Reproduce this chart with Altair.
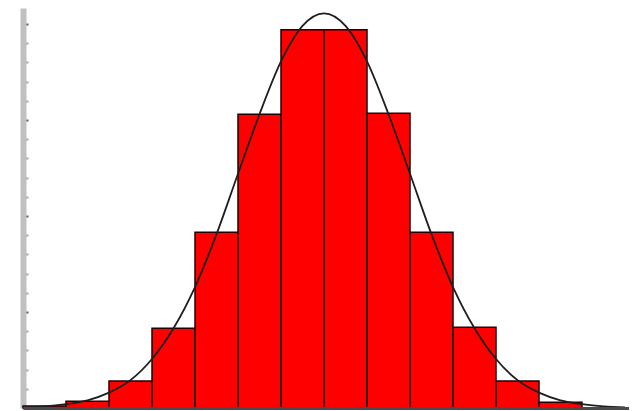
import altair as alt
import pandas as pd

# Histogram bins (in bin-index units) and bar heights (in y-axis units)
bin_start = [0, 1, 2, 3, 4, 5, 6, 7, 8, 9, 10, 11, 12]
bin_end = [1, 2, 3, 4, 5, 6, 7, 8, 9, 10, 11, 12, 13]
bar_height = [0.02, 0.07, 0.28, 0.83, 1.83, 3.06, 3.94, 3.94, 3.07, 1.83, 0.84, 0.28, 0.06]

# Normal curve, points
curve_x = [0, 0.5, 1, 1.5, 2, 2.5, 3, 3.5, 4, 4.5, 5, 5.5, 6, 6.5, 7,
           7.5, 8, 8.5, 9, 9.5, 10, 10.5, 11, 11.5, 12, 12.5, 13, 13.5, 14]
curve_y = [0.007, 0.016, 0.04, 0.08, 0.16, 0.29, 0.51, 0.83, 1.26, 1.81, 2.44, 3.06, 3.61, 3.98, 4.11,
           3.98, 3.61, 3.06, 2.44, 1.81, 1.26, 0.83, 0.51, 0.29, 0.16, 0.08, 0.04, 0.016, 0.007]

# Y axis tick positions (major every 1, minor every 0.2)
y_ticks = [0, 0.2, 0.4, 0.6, 0.8, 1.0, 1.2, 1.4, 1.6, 1.8, 2.0, 2.2, 2.4, 2.6, 2.8,
           3.0, 3.2, 3.4, 3.6, 3.8, 4.0]

W = 606
H = 400

bars_df = pd.DataFrame({"start": bin_start, "end": bin_end, "height": bar_height,
                        "base": [0] * len(bin_start)})
curve_df = pd.DataFrame({"x": curve_x, "y": curve_y})

x_scale = alt.Scale(domain=[0, 14.093], nice=False, zero=False)
y_scale = alt.Scale(domain=[0, 4.1667], nice=False)

major_test = "abs(datum.value - round(datum.value)) < 0.01"

x_axis = alt.Axis(labels=False, ticks=False, title=None, grid=False,
                  domainColor="#4a4a4a", domainWidth=3, zindex=1)
y_axis = alt.Axis(orient="right", offset=-W, values=y_ticks, labels=False,
                  title=None, grid=False, domainColor="#c0c0c0", domainWidth=6,
                  tickSize=5, tickWidth=2,
                  tickColor={"condition": {"test": major_test, "value": "#606060"},
                             "value": "#a8a8a8"})

bars = alt.Chart(bars_df).mark_rect(
    color="#ff0000", stroke="#220000", strokeWidth=1.5
).encode(
    x=alt.X("start:Q", scale=x_scale, axis=x_axis),
    x2="end:Q",
    y=alt.Y("height:Q", scale=y_scale, axis=y_axis),
    y2="base:Q",
)

curve = alt.Chart(curve_df).mark_line(
    color="#1e1e1e", strokeWidth=1.8, interpolate="monotone"
).encode(
    x=alt.X("x:Q", scale=x_scale, axis=x_axis),
    y=alt.Y("y:Q", scale=y_scale, axis=y_axis),
)

chart = alt.layer(bars, curve).properties(
    width=W, height=H,
    background="white",
    autosize=alt.AutoSizeParams(type="none"),
    padding={"left": 15, "top": 0, "right": 0, "bottom": 3},
).configure_view(stroke=None)

chart.save("out.html", embed_options={"renderer": "svg", "actions": False})
